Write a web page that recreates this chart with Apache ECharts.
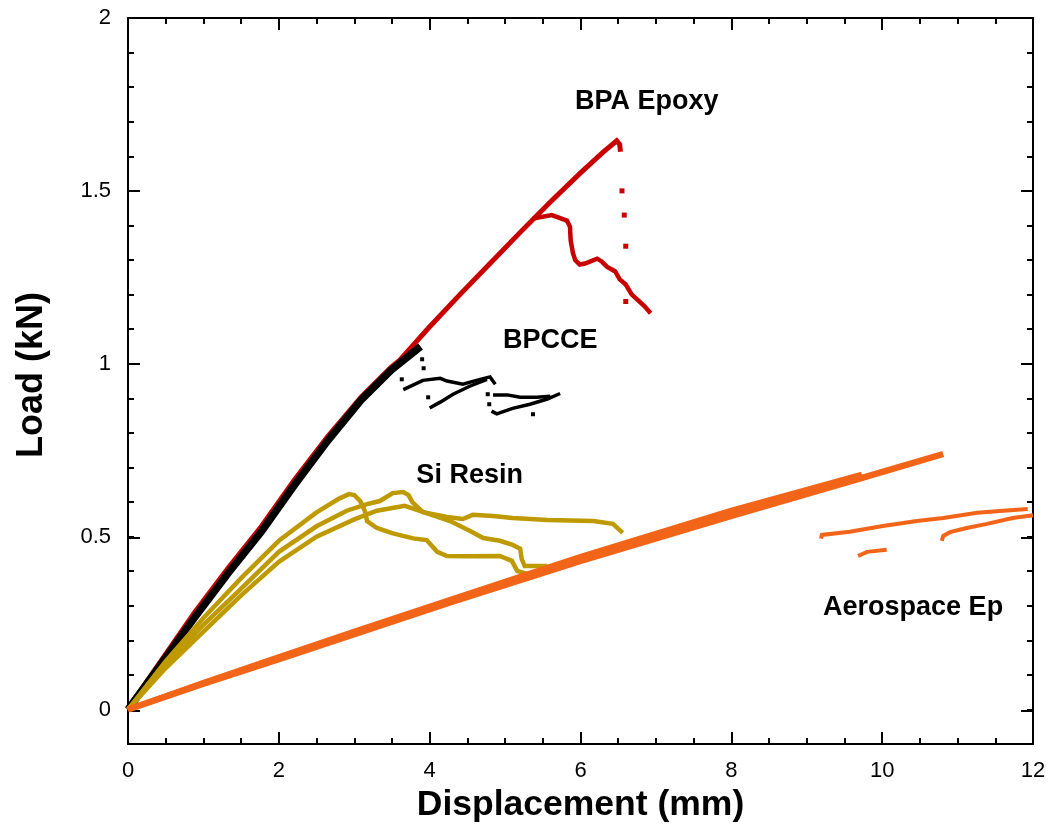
<!DOCTYPE html>
<html>
<head>
<meta charset="utf-8">
<script src="https://cdn.jsdelivr.net/npm/echarts@6/dist/echarts.min.js"></script>
<style>
  html, body { margin: 0; padding: 0; background: #fff; }
  #chart { width: 1058px; height: 828px; }
</style>
</head>
<body>
<div id="chart"></div>
<script>
// Load–displacement curves, [displacement mm, load kN]
const bpaLoading = [[0,0],[0.3,0.097],[0.88,0.28],[1.33,0.41],[1.77,0.53],[2.21,0.665],[2.65,0.79],[3.09,0.903],[3.49,0.99],[3.6,1.01],[4.0,1.107],[4.4,1.2],[4.8,1.29],[5.2,1.38],[5.6,1.468],[6.0,1.552],[6.3,1.612],[6.48,1.645],[6.52,1.634],[6.53,1.613]];
const bpaBranch = [[5.37,1.42],[5.62,1.43],[5.82,1.414],[5.86,1.397],[5.87,1.356],[5.9,1.32],[5.93,1.3],[5.99,1.287],[6.06,1.29],[6.22,1.304],[6.28,1.296],[6.35,1.281],[6.46,1.267],[6.52,1.244],[6.6,1.229],[6.68,1.2],[6.75,1.186],[6.85,1.166],[6.93,1.146]];
const bpaDots = [[6.55,1.5],[6.58,1.43],[6.6,1.34],[6.6,1.18]];

const bpcceLoading = [[0,0],[0.3,0.09],[0.88,0.265],[1.33,0.395],[1.77,0.515],[2.21,0.65],[2.65,0.778],[3.09,0.895],[3.49,0.982],[3.88,1.05]];
const bpcceA = [[3.65,0.925],[3.91,0.952],[4.14,0.958],[4.23,0.95],[4.44,0.941],[4.67,0.955],[4.8,0.962],[4.87,0.941]];
const bpcceB = [[4.0,0.872],[4.14,0.889],[4.31,0.912],[4.53,0.935],[4.76,0.955]];
const bpcceC = [[4.82,0.863],[4.89,0.855],[5.1,0.871],[5.33,0.883],[5.56,0.898],[5.73,0.914]];
const bpcceD = [[4.84,0.91],[5.03,0.91],[5.2,0.903],[5.42,0.903],[5.6,0.906]];
const bpcceDots = [[3.9,1.013],[3.92,0.987],[3.63,0.955],[3.98,0.903],[4.77,0.912],[4.79,0.883],[5.37,0.854]];

const siResinA = [[0,0],[0.5,0.14],[1,0.265],[1.5,0.38],[2,0.488],[2.5,0.57],[2.8,0.61],[2.93,0.623],[3.0,0.62],[3.08,0.603],[3.14,0.575],[3.17,0.545],[3.3,0.525],[3.5,0.51],[3.78,0.495],[3.96,0.49],[4.1,0.456],[4.23,0.444],[4.5,0.443],[4.93,0.444],[5.09,0.43],[5.16,0.401],[5.29,0.392]];
const siResinB = [[0,0],[0.5,0.13],[1,0.245],[1.5,0.35],[2,0.456],[2.5,0.53],[2.9,0.575],[3.17,0.594],[3.34,0.603],[3.51,0.626],[3.65,0.629],[3.72,0.62],[3.77,0.6],[3.91,0.571],[4.23,0.557],[4.44,0.551],[4.57,0.563],[4.84,0.56],[5.1,0.554],[5.56,0.548],[6.17,0.545],[6.43,0.537],[6.56,0.511]];
const siResinC = [[0,0],[0.5,0.12],[1,0.225],[1.5,0.33],[2,0.427],[2.5,0.5],[3.0,0.55],[3.3,0.575],[3.67,0.589],[3.88,0.574],[4.27,0.545],[4.53,0.517],[4.71,0.496],[4.93,0.488],[5.1,0.476],[5.2,0.465],[5.22,0.436],[5.26,0.415],[5.56,0.415]];

const aeroLoading = [[0,0],[1,0.075],[2,0.146],[3,0.218],[4.27,0.31],[6,0.43],[8,0.56],[9.7,0.668],[10.81,0.739]];
const aeroLoading2 = [[0,0],[1,0.078],[2,0.152],[3,0.226],[4.27,0.318],[6,0.442],[8,0.576],[9.73,0.68]];
const aeroFragment1 = [[9.19,0.494],[9.2,0.505],[9.57,0.514],[10.01,0.531],[10.46,0.545],[10.81,0.554],[11.26,0.569],[11.56,0.574],[11.93,0.58]];
const aeroFragment2 = [[10.79,0.488],[10.81,0.502],[10.9,0.513],[11.12,0.525],[11.39,0.537],[11.73,0.554],[12.0,0.562]];
const aeroFragment3 = [[9.68,0.444],[9.8,0.456],[10.06,0.462]];

// Curve labels, [x, y, text]
const curveLabels = [[6.88,1.757,'BPA Epoxy'],[5.6,1.068,'BPCCE'],[4.53,0.678,'Si Resin'],[10.41,0.294,'Aerospace Ep']];

const xTicks = { min: 0, max: 12, interval: 2 };

const RED = '#C80000', BLACK = '#000000', GOLD = '#BE9A00', ORANGE = '#F26518';
const FONT = 'Liberation Sans, Arial, sans-serif';

function line(data, color, width) {
  return {
    type: 'line', data: data, xAxisIndex: 0, yAxisIndex: 0,
    showSymbol: false, symbol: 'none', smooth: false, animation: false,
    lineStyle: { color: color, width: width, join: 'miter' }
  };
}
function dots(data, color, size) {
  return {
    type: 'scatter', data: data, xAxisIndex: 0, yAxisIndex: 0,
    symbol: 'rect', symbolSize: size, animation: false,
    itemStyle: { color: color, opacity: 1 }
  };
}

const frameLine = { show: true, onZero: false, lineStyle: { color: '#000', width: 2 } };

const chart = echarts.init(document.getElementById('chart'), null, { renderer: 'canvas' });
chart.setOption({
  backgroundColor: '#fff',
  animation: false,
  textStyle: { fontFamily: FONT },
  grid: [
    { left: 128, right: 25, top: 18, bottom: 83 },
    { left: 128, right: 25, top: 18, bottom: 117.6 }
  ],
  graphic: [
    {
      type: 'text', x: 32, y: 375, rotation: Math.PI / 2,
      style: { text: 'Load (kN)', fontSize: 36, fontWeight: 'bold', fill: '#000', fontFamily: FONT,
        align: 'center', verticalAlign: 'middle' }
    }
  ],
  xAxis: [
    {
      type: 'value', gridIndex: 0, position: 'bottom', min: xTicks.min, max: xTicks.max, interval: xTicks.interval,
      axisLine: frameLine,
      axisTick: { show: true, inside: true, length: 12, lineStyle: { color: '#000', width: 2 } },
      minorTick: { show: true, splitNumber: 4, length: 6, lineStyle: { color: '#000', width: 2 } },
      splitLine: { show: false }, minorSplitLine: { show: false },
      axisLabel: { fontSize: 22, color: '#000', margin: 16, fontFamily: FONT },
      name: 'Displacement (mm)', nameLocation: 'middle', nameGap: 38,
      nameTextStyle: { fontSize: 35.5, fontWeight: 'bold', color: '#000', fontFamily: FONT }
    },
    {
      type: 'value', gridIndex: 0, position: 'top', min: xTicks.min, max: xTicks.max, interval: xTicks.interval,
      axisLine: frameLine,
      axisTick: { show: true, inside: true, length: 12, lineStyle: { color: '#000', width: 2 } },
      minorTick: { show: true, splitNumber: 4, length: 6, lineStyle: { color: '#000', width: 2 } },
      splitLine: { show: false }, axisLabel: { show: false }
    },
    { type: 'value', gridIndex: 1, min: 0, max: 12, show: false }
  ],
  yAxis: [
    {
      type: 'value', gridIndex: 0, position: 'left', min: -0.1, max: 2, interval: 0.1,
      axisLine: frameLine,
      axisTick: { show: true, inside: true, length: 6, lineStyle: { color: '#000', width: 2 } },
      splitLine: { show: false }, axisLabel: { show: false }
    },
    {
      type: 'value', gridIndex: 0, position: 'right', min: -0.1, max: 2, interval: 0.1,
      axisLine: frameLine,
      axisTick: { show: true, inside: true, length: 6, lineStyle: { color: '#000', width: 2 } },
      splitLine: { show: false }, axisLabel: { show: false }
    },
    {
      type: 'value', gridIndex: 1, position: 'left', min: 0, max: 2, interval: 0.5,
      axisLine: { show: false },
      axisTick: { show: true, inside: true, length: 12, lineStyle: { color: '#000', width: 2 } },
      splitLine: { show: false },
      axisLabel: { fontSize: 22, color: '#000', margin: 17, fontFamily: FONT,
        formatter: function (v) { return String(Math.round(v * 10) / 10); } }
    },
    {
      type: 'value', gridIndex: 1, position: 'right', min: 0, max: 2, interval: 0.5,
      axisLine: { show: false },
      axisTick: { show: true, inside: true, length: 12, lineStyle: { color: '#000', width: 2 } },
      splitLine: { show: false }, axisLabel: { show: false }
    }
  ],
  series: [
    line(bpaLoading, RED, 5),
    line(bpaBranch, RED, 4.5),
    dots(bpaDots, RED, 5),
    line(bpcceLoading, BLACK, 7.5),
    line(bpcceA, BLACK, 3.5),
    line(bpcceB, BLACK, 3.5),
    line(bpcceC, BLACK, 3.5),
    line(bpcceD, BLACK, 3.5),
    dots(bpcceDots, BLACK, 4),
    line(siResinA, GOLD, 4.5),
    line(siResinB, GOLD, 4.5),
    line(siResinC, GOLD, 4.5),
    line(aeroLoading, ORANGE, 6.5),
    line(aeroLoading2, ORANGE, 5.5),
    line(aeroFragment1, ORANGE, 4),
    line(aeroFragment2, ORANGE, 4),
    line(aeroFragment3, ORANGE, 4),
    {
      type: 'scatter', xAxisIndex: 0, yAxisIndex: 0, animation: false, silent: true,
      symbol: 'rect', symbolSize: 1, itemStyle: { color: 'rgba(0,0,0,0)', opacity: 1 },
      data: curveLabels.map(function (d) { return { value: [d[0], d[1]], name: d[2] }; }),
      label: { show: true, position: 'inside', formatter: '{b}', fontSize: 27, fontWeight: 'bold',
        color: '#000', opacity: 1, fontFamily: FONT }
    }
  ]
});
</script>
</body>
</html>
